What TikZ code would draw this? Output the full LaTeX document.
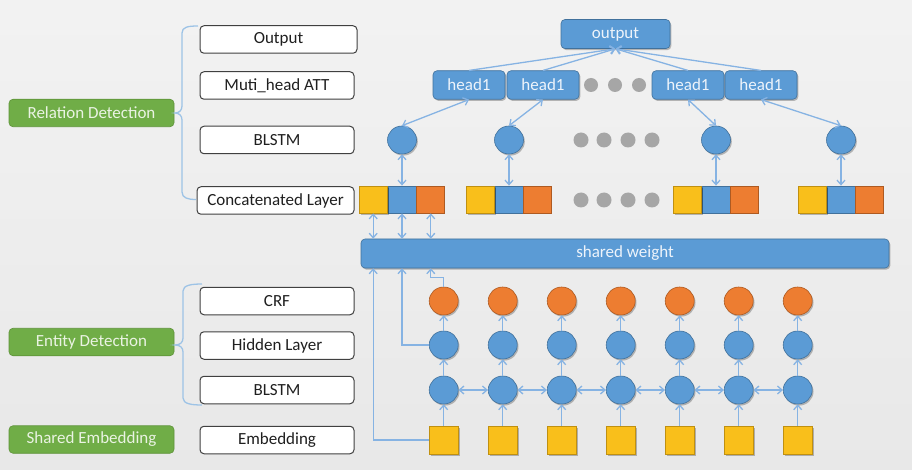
\documentclass[tikz,border=0pt]{standalone}
\usepackage{fontspec}
\setmainfont{Carlito}
\usetikzlibrary{arrows.meta,shadows,calc,shapes.geometric}

\definecolor{blu}{HTML}{5B9BD5}
\definecolor{bluD}{HTML}{41719C}
\definecolor{org}{HTML}{ED7D31}
\definecolor{orgD}{HTML}{AE5A21}
\definecolor{yel}{HTML}{F9BF1B}
\definecolor{yelD}{HTML}{C09010}
\definecolor{grn}{HTML}{70AD47}
\definecolor{grnD}{HTML}{5E9339}
\definecolor{lnk}{HTML}{86B3E3}
\definecolor{brc}{HTML}{9DC3E6}
\definecolor{dotc}{HTML}{A6A6A6}
\definecolor{txtL}{HTML}{EEF4FB}
\definecolor{txtG}{HTML}{EAF3E3}

\tikzset{
  every node/.style={font=\fontsize{17}{20}\selectfont, inner sep=0pt},
  shd/.style={drop shadow={shadow xshift=1.3pt, shadow yshift=-1.6pt, opacity=0.25, fill=black}},
  labelbox/.style={draw=black!75, line width=1pt, fill=white, rounded corners=4pt,
    minimum width=154pt, minimum height=27.5pt, text=black!88},
  groupbox/.style={draw=grnD, line width=0.6pt, fill=grn, rounded corners=4pt,
    minimum width=165pt, minimum height=27.5pt, text=txtG},
  bluebox/.style={draw=bluD, line width=0.6pt, fill=blu, rounded corners=4pt,
    text=txtL, shd},
  headbox/.style={bluebox, minimum width=72pt, minimum height=28.5pt},
  bcirc/.style={ellipse, draw=bluD, line width=0.6pt, fill=blu, minimum width=29pt, minimum height=28pt, shd},
  ocirc/.style={ellipse, draw=orgD, line width=0.6pt, fill=org, minimum width=29pt, minimum height=28pt, shd},
  gdot/.style={circle, fill=dotc, minimum size=15pt},
  ysq/.style={rectangle, draw=yelD, line width=0.8pt, fill=yel, minimum width=28pt, minimum height=27pt, shd},
  bsq/.style={rectangle, draw=bluD, line width=0.8pt, fill=blu, minimum width=28pt, minimum height=27pt},
  osq/.style={rectangle, draw=orgD, line width=0.8pt, fill=org, minimum width=28pt, minimum height=27pt},
  esq/.style={rectangle, draw=yelD, line width=0.8pt, fill=yel, minimum width=29pt, minimum height=28pt, shd},
  link/.style={draw=lnk, line width=1.3pt, arrows={-Straight Barb[length=4.5pt,width=8pt]}},
  dlink/.style={draw=lnk, line width=1.3pt, arrows={Straight Barb[length=4.5pt,width=8pt]-Straight Barb[length=4.5pt,width=8pt]}},
  bracket/.style={draw=brc, line width=1.3pt},
}

\begin{document}
\begin{tikzpicture}[x=1pt,y=-1pt]
  % canvas
  \shade[top color=white!95!black, bottom color=white!91!black] (0,0) rectangle (912,470);
  \useasboundingbox (0,0) rectangle (912,470);

  % ---------- left-hand legend ----------
  \node[groupbox] (grel) at (91.5,113) {Relation Detection};
  \node[groupbox] (gent) at (91.5,342) {Entity Detection};
  \node[groupbox] (gemb) at (91.5,439.5) {Shared Embedding};

  \node[labelbox, minimum width=157pt] (lout) at (278.5,39.5) {Output};
  \node[labelbox] (latt) at (277,85.5) {Muti\_head ATT};
  \node[labelbox] (lbl1) at (277,140) {BLSTM};
  \node[labelbox, minimum width=157pt] (lcat) at (275.5,200.5) {Concatenated Layer};
  \node[labelbox] (lcrf) at (277,301) {CRF};
  \node[labelbox] (lhid) at (277,345.5) {Hidden Layer};
  \node[labelbox] (lbl2) at (277,390) {BLSTM};
  \node[labelbox] (lemb) at (277,440) {Embedding};

  % brackets grouping the layers
  \draw[bracket] (198,26) .. controls (188,26) and (182,27) .. (182,33) -- (182,106)
    .. controls (182,110.5) and (179,113) .. (175,113)
    .. controls (179,113) and (182,115.5) .. (182,120) -- (182,192)
    .. controls (182,198) and (188,199.5) .. (196,199.5);
  \draw[bracket] (202,284) .. controls (192,284) and (183,285) .. (183,291) -- (183,338)
    .. controls (183,342.5) and (180,345) .. (175,345)
    .. controls (180,345) and (183,347.5) .. (183,352) -- (183,398)
    .. controls (183,404) and (192,405) .. (202,405);

  % ---------- relation detection ----------
  \node[bluebox, minimum width=109pt, minimum height=29pt] (out) at (615.5,34) {output};

  \node[headbox] (h1) at (469,85) {head1};
  \node[headbox] (h2) at (543,85) {head1};
  \node[headbox] (h3) at (688,85) {head1};
  \node[headbox] (h4) at (761,85) {head1};
  \foreach \x/\n in {591/1,615/2,639/3} \node[gdot, minimum size=14pt] (hd\n) at (\x,85) {};

  \foreach \k/\x in {1/402,2/509,3/716,4/841} {
    \node[bcirc] (c\k) at (\x,140) {};
    \node[bsq] (b\k) at (\x,199.5) {};
    \node[ysq, anchor=east] (y\k) at (b\k.west) {};
    \node[osq, anchor=west] (o\k) at (b\k.east) {};
  }
  \foreach \x/\n in {581/1,604/2,628/3,652/4} {
    \node[gdot] (cd\n) at (\x,140) {};
    \node[gdot] (sd\n) at (\x,200) {};
  }

  \foreach \k in {1,...,4} {
    \draw[link] (h\k.north) -- (out.south);
    \draw[dlink] (h\k.south) -- (c\k.north);
    \draw[dlink] (c\k.south) -- (b\k.north);
  }

  % ---------- shared weight ----------
  \node[bluebox, minimum width=528pt, minimum height=29pt] (sw) at (625,253.5) {shared weight};
  \foreach \s in {y1,b1,o1} \draw[dlink] (\s.south) -- (\s.south |- sw.north);

  % ---------- entity detection ----------
  \foreach \i in {0,...,6} {
    \pgfmathsetmacro{\xx}{443.7+59*\i}
    \node[esq] (e\i) at (\xx,440) {};
    \node[bcirc] (l\i) at (\xx,390) {};
    \node[bcirc] (d\i) at (\xx,345) {};
    \node[ocirc] (r\i) at (\xx,301) {};
    \draw[link] (e\i.north) -- (l\i.south);
    \draw[link] (l\i.north) -- (d\i.south);
    \draw[link] (d\i.north) -- (r\i.south);
  }
  \foreach \i/\j in {0/1,1/2,2/3,3/4,4/5,5/6} \draw[dlink] (l\i.east) -- (l\j.west);

  % feeds into the shared weight
  \draw[link] (e0.west) -| (y1.south |- sw.south);
  \draw[link] (d0.west) -| (b1.south |- sw.south);
  \draw[link] (r0.north) -- (r0.north |- 0,277.5) -| (o1.south |- sw.south);
\end{tikzpicture}
\end{document}
